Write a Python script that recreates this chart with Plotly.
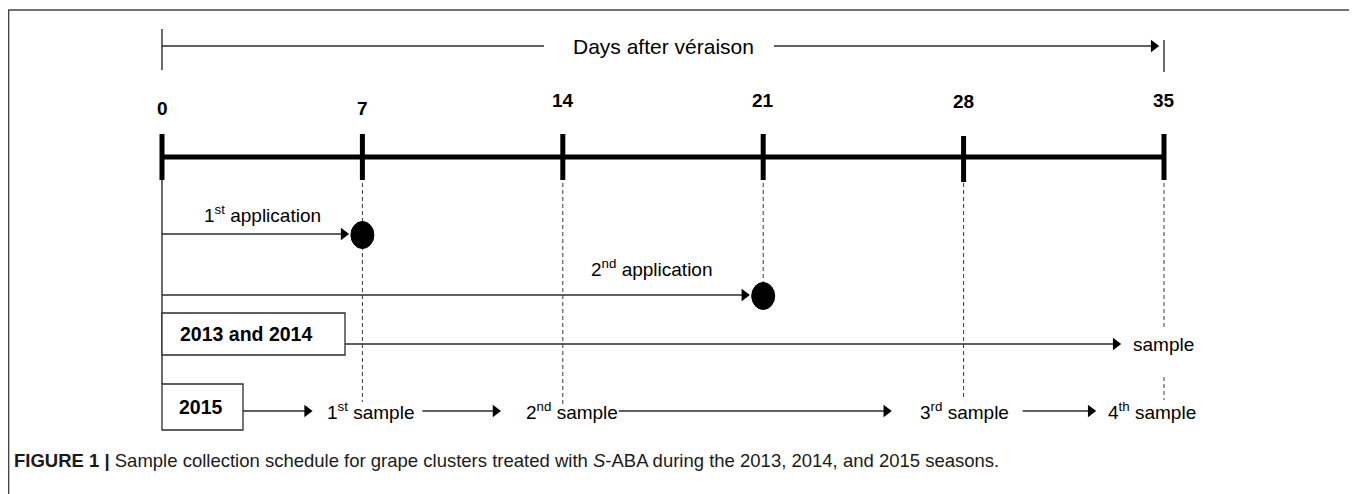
import plotly.graph_objects as go

# ---------------- data ----------------
days = [0, 7, 14, 21, 28, 35]
tick_labels = ["0", "7", "14", "21", "28", "35"]
application_days = [7, 21]
application_labels = ["1<sup>st</sup> application", "2<sup>nd</sup> application"]
season_labels = ["2013 and 2014", "2015"]
sample_days_2013_2014 = [35]
sample_labels_2013_2014 = ["sample"]
sample_days_2015 = [7, 14, 28, 35]
sample_labels_2015 = ["1<sup>st</sup> sample", "2<sup>nd</sup> sample",
                      "3<sup>rd</sup> sample", "4<sup>th</sup> sample"]
axis_title = "Days after véraison"
caption = ("<b>FIGURE 1 |</b> Sample collection schedule for grape clusters treated with "
           "<i>S</i>-ABA during the 2013, 2014, and 2015 seasons.")

# ---------------- layout constants (page pixels) ----------------
PAGE_W, PAGE_H = 1357, 494
OFF = 8                       # default body margin of the html page
W, H = PAGE_W - OFF, PAGE_H - OFF
X0_PX, XEND_PX = 162, 1164    # page x of first / last day
PPD = (XEND_PX - X0_PX) / (days[-1] - days[0])
def L(p):  # pixel length -> days
    return p / PPD
x_range = [days[0] - L(X0_PX - OFF), days[0] + L(W - (X0_PX - OFF))]
y_range = [H + OFF, OFF]      # y values are page pixels

FONT = "Liberation Sans, Arial, sans-serif"
THIN = "#2b2b2b"
DASH = "#3a3a3a"

TOP_Y = 46
AXIS_Y = 157
TICK_HALF = 23
TICK_LABEL_Y = [108, 108, 100, 100, 101, 100]
APP_Y = [234, 295]
APP_LABEL_POS = [(3.5, 214), (17.1, 268)]
DOT_RX, DOT_RY = 11.5, 13.5
ROW_Y = [344, 411]
BOX_W = [183, 81]
BOX_Y = [(313, 355), (384, 430)]
BOX_TEXT_X = [84, 39]          # label centre offset inside each box
BOX_TEXT_Y = [334, 407]
DASH_SEGS = [(7, 183, 402), (14, 183, 404), (21, 183, 283), (28, 183, 400),
             (35, 183, 328), (35, 377, 400)]
S15_OFFS = [8, 9, 1, -12]
S15_GAP_BEFORE = [57, 70, 72, 55]   # space between arrow tip and label center
S15_GAP_AFTER = [52, 47, 58]        # space between label center and next arrow start

fig = go.Figure()

thin_x, thin_y = [], []
heads_x, heads_y = [], []
HEAD_TIP = 6.3

def seg(x0, y0, x1, y1):
    thin_x.extend([x0, x1, None]); thin_y.extend([y0, y1, None])

def arrow(x0, x1, y):
    seg(x0, y, x1 - L(5), y)
    heads_x.append(x1 - L(HEAD_TIP)); heads_y.append(y)

# top bracket
mid = (days[0] + days[-1]) / 2
seg(days[0], 29, days[0], 70)
seg(days[-1], 40, days[-1], 72)
seg(days[0], TOP_Y, mid - L(119), TOP_Y)
arrow(mid + L(111), days[-1] - L(4), TOP_Y)

# vertical at day 0
seg(days[0], AXIS_Y + TICK_HALF, days[0], BOX_Y[1][0])

# application arrows
for d, y in zip(application_days, APP_Y):
    arrow(days[0], d - L(DOT_RX + 1), y)

# 2013/2014 row
arrow(days[0] + L(BOX_W[0]), sample_days_2013_2014[0] - L(42), ROW_Y[0])

# 2015 row
centers = [d + L(o) for d, o in zip(sample_days_2015, S15_OFFS)]
prev = days[0] + L(BOX_W[1])
for i, c in enumerate(centers):
    arrow(prev, c - L(S15_GAP_BEFORE[i]), ROW_Y[1])
    if i < len(S15_GAP_AFTER):
        prev = c + L(S15_GAP_AFTER[i])

fig.add_trace(go.Scatter(x=thin_x, y=thin_y, mode="lines",
                         line=dict(color=THIN, width=1.4), hoverinfo="skip"))
fig.add_trace(go.Scatter(x=heads_x, y=heads_y, mode="markers",
                         marker=dict(symbol="triangle-right", size=11, color="black"),
                         hoverinfo="skip"))

# dashed guides
dx, dy = [], []
for d, y0, y1 in DASH_SEGS:
    dx.extend([d, d, None]); dy.extend([y0, y1, None])
fig.add_trace(go.Scatter(x=dx, y=dy, mode="lines",
                         line=dict(color=DASH, width=1, dash="4px,3px"), hoverinfo="skip"))

# main timeline
tx, ty = [days[0], days[-1], None], [AXIS_Y, AXIS_Y, None]
for d in days:
    tx.extend([d, d, None]); ty.extend([AXIS_Y - TICK_HALF + (2 if d == 28 else 0),
                                        AXIS_Y + TICK_HALF + (2 if d == 28 else 0), None])
fig.add_trace(go.Scatter(x=tx, y=ty, mode="lines",
                         line=dict(color="black", width=5), hoverinfo="skip"))

shapes = []
# application dots
for d, y in zip(application_days, APP_Y):
    shapes.append(dict(type="circle", xref="x", yref="y",
                       x0=d - L(DOT_RX), x1=d + L(DOT_RX),
                       y0=y + 1 - DOT_RY, y1=y + 1 + DOT_RY,
                       fillcolor="black", line=dict(color="black", width=1)))
# season boxes
for w, (y0, y1) in zip(BOX_W, BOX_Y):
    shapes.append(dict(type="rect", xref="x", yref="y",
                       x0=days[0], x1=days[0] + L(w), y0=y0, y1=y1,
                       fillcolor="white", line=dict(color=THIN, width=1.3)))
# figure frame (page x 7..1355, top at page y 10)
shapes.append(dict(type="rect", xref="paper", yref="y",
                   x0=0.6 / W, x1=(1355 - OFF) / W, y0=10, y1=H + OFF + 20,
                   line=dict(color="#444", width=1.5), fillcolor="rgba(0,0,0,0)"))

ann = []
def text(x, y, s, size=19, bold=False, anchor="center", xref="x", yref="y", color="black"):
    ann.append(dict(x=x, y=y, xref=xref, yref=yref, text=(f"<b>{s}</b>" if bold else s),
                    showarrow=False, xanchor=anchor, yanchor="middle",
                    font=dict(family=FONT, size=size, color=color)))

text(mid, TOP_Y, axis_title, size=21)
for d, lab, y in zip(days, tick_labels, TICK_LABEL_Y):
    text(d, y, lab, bold=True)
for lab, (x, y) in zip(application_labels, APP_LABEL_POS):
    text(x, y, lab)
for tx_off, ty_c, lab in zip(BOX_TEXT_X, BOX_TEXT_Y, season_labels):
    text(days[0] + L(tx_off), ty_c, lab, size=19.5, bold=True)
text(sample_days_2013_2014[0] - L(33), ROW_Y[0], sample_labels_2013_2014[0], anchor="left")
for c, lab in zip(centers, sample_labels_2015):
    text(c, ROW_Y[1], lab)
ann.append(dict(x=(12 - OFF) / W, y=460, xref="paper", yref="y", text=caption, showarrow=False,
                xanchor="left", yanchor="middle",
                font=dict(family="Liberation Sans Narrow, Arial Narrow, Liberation Sans, sans-serif",
                          size=18.5, color="#1a1a1a")))

fig.update_layout(
    width=W, height=H, margin=dict(l=0, r=0, t=0, b=0),
    paper_bgcolor="white", plot_bgcolor="white", showlegend=False,
    xaxis=dict(range=x_range, visible=False, fixedrange=True),
    yaxis=dict(range=y_range, visible=False, fixedrange=True),
    shapes=shapes, annotations=ann,
)
fig.write_html("out.html")
